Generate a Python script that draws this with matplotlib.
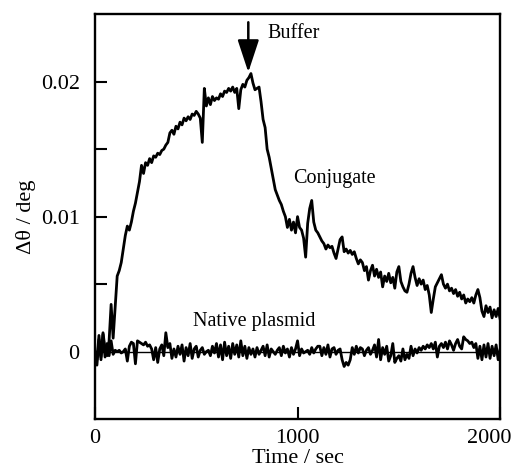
import numpy as np
import matplotlib
matplotlib.use("Agg")
import matplotlib.pyplot as plt
import matplotlib.transforms as mtransforms

plt.rcParams["font.family"] = ["Liberation Serif", "DejaVu Serif"]
plt.rcParams["font.size"] = 16

# sampling every 10 s, 0..2000 s
time_s = np.arange(0, 2001, 10)

# signals, in millidegrees
conjugate_mdeg = [
    0.0, -0.6, 1.2, -0.4, 1.4, 0.2, -0.3, 0.8, 3.5, 1.0,
    3.3, 5.6, 6.0, 6.6, 7.6, 8.6, 9.3, 9.0, 9.6, 10.4,
    11.0, 11.8, 12.6, 13.8, 13.2, 14.0, 13.8, 14.3, 14.0, 14.5,
    14.4, 14.7, 14.6, 14.9, 15.0, 15.3, 15.5, 16.2, 16.4, 16.1,
    16.7, 16.5, 17.0, 16.8, 17.3, 17.1, 17.4, 17.2, 17.6, 17.5,
    17.8, 17.6, 17.3, 15.5, 19.5, 18.2, 18.8, 18.3, 18.9, 18.6,
    18.8, 18.7, 19.1, 18.9, 19.3, 19.2, 19.5, 19.3, 19.6, 19.2,
    19.5, 18.0, 19.4, 19.8, 19.6, 20.1, 20.3, 20.6, 19.9, 19.4,
    19.5, 19.6, 18.5, 17.2, 16.6, 15.0, 14.4, 13.6, 12.8, 12.0,
    11.6, 11.2, 10.9, 10.4, 10.0, 9.2, 9.8, 9.0, 9.6, 8.8,
    10.0, 9.2, 9.0, 8.4, 7.0, 9.5, 10.6, 11.2, 9.6, 9.0,
    8.8, 8.5, 8.2, 8.0, 7.6, 7.9, 7.7, 7.8, 7.3, 6.9,
    7.6, 8.3, 8.5, 7.4, 7.6, 7.3, 7.5, 7.2, 7.4, 6.9,
    6.5, 6.8, 6.6, 6.0, 6.3, 5.3, 6.0, 6.4, 5.6, 6.1,
    5.5, 5.9, 4.8, 5.6, 5.2, 5.8, 5.1, 5.5, 4.7, 5.9,
    6.3, 5.2, 4.8, 4.5, 4.4, 5.0, 5.8, 6.3, 5.5, 4.9,
    5.4, 5.0, 5.3, 4.6, 4.9, 4.2, 2.9, 3.9, 4.8, 5.1,
    5.4, 5.7, 5.0, 4.7, 5.0, 4.5, 4.7, 4.3, 4.6, 4.1,
    4.4, 3.9, 4.2, 3.6, 3.9, 3.7, 4.0, 3.6, 4.2, 4.6,
    4.0, 3.0, 2.6, 3.4, 2.9, 3.3, 2.5, 3.1, 2.6, 3.2,
    2.4,
]

native_mdeg = [
    0.0, -1.0, 0.9, -0.6, 1.3, -0.4, 0.6, -0.3, 0.8, -0.2,
    0.1, 0.0, 0.1, -0.1, 0.0, 0.2, -0.7, 0.4, 0.7, 0.6,
    -0.9, 0.8, 0.7, 0.6, 0.5, 0.7, 0.4, 0.5, 0.2, -0.6,
    0.3, -0.8, 0.2, 0.5, -0.3, 1.4, 0.3, 0.6, -0.5, 0.2,
    -0.4, 0.4, -0.2, 0.5, -0.7, 0.3, -0.3, 0.6, -0.5, 0.2,
    0.4, -0.4, 0.1, 0.3, -0.2, 0.0, 0.1, -0.3, 0.4, -0.1,
    0.6, -0.4, 0.5, -0.6, 0.7, -0.3, 0.4, -0.5, 0.6, -0.2,
    0.5, -0.4, 0.8, -0.3, 0.4, -0.5, 0.3, -0.2, 0.2, -0.4,
    0.3, -0.2, 0.1, 0.4, -0.3, 0.5, -0.4, 0.2, 0.0, -0.2,
    0.1, 0.3, -0.3, 0.4, -0.1, 0.2, -0.4, 0.3, -0.2, 0.2,
    0.8, -0.3, 0.2, -0.1, 0.0, 0.1, -0.2, 0.3, -0.1, 0.2,
    0.4, 0.4, -0.3, 0.3, -0.2, 0.5, -0.4, 0.2, 0.3, -0.2,
    0.1, 0.2, -0.6, -1.1, -0.8, -1.0, -0.6, 0.3, -0.2, 0.4,
    -0.1, 0.3, 0.2, -0.3, 0.1, 0.3, -0.2, 0.1, 0.5, -0.4,
    0.9, -0.6, 0.3, -0.2, 0.4, -0.7, -0.3, 0.6, -0.8, -0.5,
    -0.3, -0.7, 0.2, -0.6, -0.2, -0.5, 0.4, -0.3, 0.2, -0.1,
    0.3, 0.1, 0.4, 0.2, 0.5, 0.3, 0.6, 0.2, 0.7, -0.4,
    0.4, 0.6, 0.3, 0.7, 0.2, 0.8, 0.5, 0.1, 0.6, 0.9,
    0.4, 0.2, 1.1, 0.9, 0.8, 0.6, 0.7, 0.3, 0.6, -0.5,
    0.4, -0.6, 0.5, -0.4, 0.6, -0.5, 0.4, -0.3, 0.5, -0.6,
    0.2,
]

conjugate = np.array(conjugate_mdeg) * 1e-3
native = np.array(native_mdeg) * 1e-3

x_ticks = [0, 1000, 2000]
y_major = [0, 0.01, 0.02]
y_minor = [0.005, 0.015]

fig = plt.figure(figsize=(5.13, 4.72), dpi=100)
ax = fig.add_axes([0.185, 0.112, 0.79, 0.858])

ax.axhline(0, color="black", lw=1.0, zorder=1)
ax.plot(time_s, native, color="black", lw=2.0)
ax.plot(time_s, conjugate, color="black", lw=2.0)

ax.set_xlim(0, 2000)
ax.set_ylim(-0.005, 0.025)
ax.set_xticks(x_ticks)
ax.set_xticklabels(["0", "1000", "2000"])
ax.set_yticks(y_major)
ax.set_yticklabels(["0", "0.01", "0.02"])
ax.set_yticks(y_minor, minor=True)

for side in ax.spines.values():
    side.set_linewidth(1.7)
ax.tick_params(axis="both", which="both", direction="in", length=8.5,
               width=1.5, top=False, right=False)
ax.tick_params(axis="y", pad=11)
ax.tick_params(axis="x", pad=7)

# nudge the last x label so it stays inside the canvas
last = ax.get_xticklabels()[-1]
last.set_transform(last.get_transform() +
                   mtransforms.ScaledTranslation(-8 / 72, 0, fig.dpi_scale_trans))

ax.set_xlabel("Time / sec", labelpad=1)
ax.set_ylabel("Δθ / deg", labelpad=3)

# buffer injection marker
ax.annotate("", xy=(757, 0.0207), xytext=(757, 0.0244),
            arrowprops=dict(arrowstyle="-|>,head_length=1.0,head_width=0.33",
                            mutation_scale=20, color="black", lw=1.8,
                            shrinkA=0, shrinkB=0))
ax.text(849, 0.0232, "Buffer", va="baseline", ha="left", fontsize=14.5)
ax.text(978, 0.0125, "Conjugate", va="baseline", ha="left", fontsize=14.5)
ax.text(484, 0.0019, "Native plasmid", va="baseline", ha="left", fontsize=14.5)

fig.savefig("out.png", dpi=100)
